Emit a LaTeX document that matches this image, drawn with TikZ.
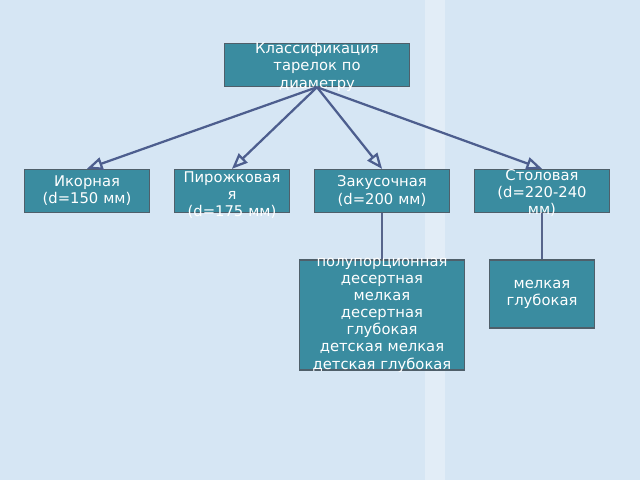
\documentclass[tikz,border=0pt]{standalone}
\usepackage{fontspec}
\setmainfont{DejaVu Sans}
\usetikzlibrary{arrows,calc}
\definecolor{bgblue}{HTML}{D6E6F4}
\definecolor{boxfill}{HTML}{3A8CA0}
\definecolor{boxline}{HTML}{4F5F6A}
\definecolor{arrline}{HTML}{4D5E8E}
\tikzset{box/.style={draw=boxline,line width=1pt,fill=boxfill,inner sep=0pt}}
\tikzset{txt/.style={text=white,align=center,inner sep=0pt,font=\fontsize{10.5}{12.2}\selectfont}}
\tikzset{conn/.style={draw=arrline,line width=1.6pt,-open triangle 45}}
\tikzset{link/.style={draw=arrline!80!gray,line width=1.2pt}}

\begin{document}
\begin{tikzpicture}[x=0.025cm,y=-0.025cm]
            \fill[bgblue] (0,0) rectangle (640,480);
            \fill[white,opacity=0.3] (425,0) rectangle (445,480);
            \useasboundingbox (0,0) rectangle (640,480);
            % boxes
            \node[box,minimum width=4.625cm,minimum height=1.075cm] (top) at (317,65) {};
            \node[box,minimum width=3.125cm,minimum height=1.075cm] (ikor) at (87,191) {};
            \node[box,minimum width=2.875cm,minimum height=1.075cm] (pir) at (232,191) {};
            \node[box,minimum width=3.375cm,minimum height=1.075cm] (zak) at (382,191) {};
            \node[box,minimum width=3.375cm,minimum height=1.075cm] (stol) at (542,191) {};
            \node[box,minimum width=4.125cm,minimum height=2.75cm] (des) at (382,315) {};
            \node[box,minimum width=2.625cm,minimum height=1.7cm] (glub) at (542,294) {};
            % texts
            \node[txt,text width=4cm] at ($(top)+(0,2)$) {Классификация\\тарелок по\\диаметру};
            \node[txt,text width=3cm] at (ikor) {Икорная\\(d=150 мм)};
            \node[txt,text width=2.7cm] at ($(pir)+(0,4)$) {Пирожковая\\я\\(d=175 мм)};
            \node[txt,text width=3.2cm] at (zak) {Закусочная\\(d=200 мм)};
            \node[txt,text width=3.2cm] at ($(stol)+(0,2)$) {Столовая\\(d=220-240\\мм)};
            \node[txt,text width=4.1cm] at (des) {полупорционная\\десертная\\мелкая\\десертная\\глубокая\\детская мелкая\\детская глубокая};
            \node[txt,text width=2.5cm] at (glub) {мелкая\\глубокая};
            % connectors
            \draw[conn] (top.south) -- (ikor.north);
            \draw[conn] (top.south) -- (pir.north);
            \draw[conn] (top.south) -- (zak.north);
            \draw[conn] (top.south) -- (stol.north);
            \draw[link] (zak.south) -- (des.north);
            \draw[link] (stol.south) -- (glub.north);
          \end{tikzpicture}
\end{document}
